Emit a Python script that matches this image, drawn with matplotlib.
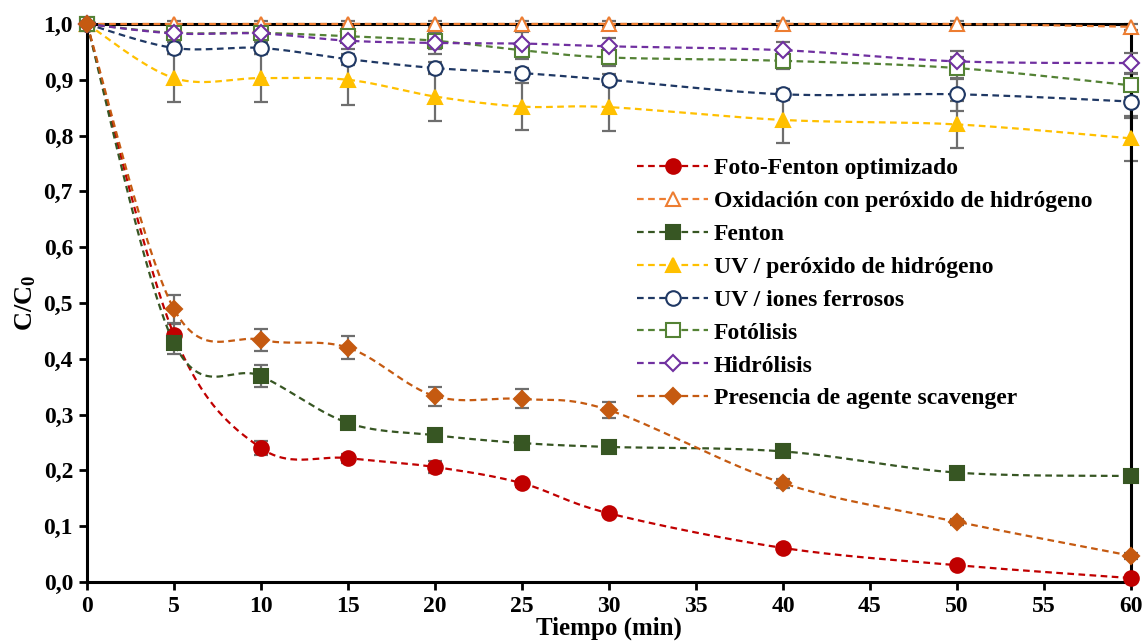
import numpy as np
import matplotlib
matplotlib.use('Agg')
import matplotlib.pyplot as plt
from matplotlib.ticker import FuncFormatter
from matplotlib.font_manager import FontProperties

plt.rcParams['font.family'] = 'Liberation Serif'
plt.rcParams['font.weight'] = 'bold'
plt.rcParams['mathtext.fontset'] = 'custom'
plt.rcParams['mathtext.rm'] = 'Liberation Serif:bold'
plt.rcParams['mathtext.it'] = 'Liberation Serif:bold'
plt.rcParams['mathtext.bf'] = 'Liberation Serif:bold'

# tiempo (min)
t = [0, 5, 10, 15, 20, 25, 30, 40, 50, 60]

foto_fenton = [1.0, 0.443, 0.240, 0.222, 0.206, 0.177, 0.123, 0.061, 0.030, 0.007]
foto_fenton_err = [0, 0.02, 0.012, 0.008, 0.01, 0.006, 0.005, 0.005, 0.004, 0.003]
oxidacion = [1.0, 1.0, 1.0, 1.0, 1.0, 1.0, 1.0, 1.0, 1.0, 0.995]
oxidacion_err = [0, 0.005, 0.005, 0.005, 0.005, 0.005, 0.005, 0.005, 0.005, 0.005]
fenton = [1.0, 0.428, 0.369, 0.285, 0.263, 0.249, 0.242, 0.234, 0.196, 0.190]
fenton_err = [0, 0.02, 0.019, 0.01, 0.008, 0.006, 0.006, 0.006, 0.006, 0.006]
uv_perox = [1.0, 0.903, 0.903, 0.900, 0.870, 0.852, 0.851, 0.828, 0.820, 0.795]
uv_perox_err = [0, 0.043, 0.043, 0.045, 0.043, 0.042, 0.042, 0.042, 0.042, 0.04]
uv_ferro = [1.0, 0.957, 0.957, 0.937, 0.921, 0.912, 0.900, 0.874, 0.874, 0.861]
uv_ferro_err = [0, 0.01, 0.01, 0.01, 0.01, 0.01, 0.01, 0.01, 0.03, 0.03]
fotolisis = [1.0, 0.984, 0.984, 0.978, 0.970, 0.953, 0.940, 0.934, 0.921, 0.890]
fotolisis_err = [0, 0.01, 0.01, 0.01, 0.015, 0.015, 0.015, 0.015, 0.02, 0.02]
hidrolisis = [1.0, 0.983, 0.983, 0.970, 0.966, 0.965, 0.960, 0.953, 0.933, 0.930]
hidrolisis_err = [0, 0.01, 0.01, 0.015, 0.02, 0.02, 0.015, 0.015, 0.018, 0.018]
scavenger = [1.0, 0.489, 0.434, 0.420, 0.333, 0.328, 0.308, 0.177, 0.108, 0.047]
scavenger_err = [0, 0.025, 0.02, 0.02, 0.017, 0.017, 0.015, 0.008, 0.005, 0.005]

series = [
    ("Foto-Fenton optimizado", foto_fenton, foto_fenton_err, "#C00000", "o", True),
    ("Oxidación con peróxido de hidrógeno", oxidacion, oxidacion_err, "#ED7D31", "^", False),
    ("Fenton", fenton, fenton_err, "#375623", "s", True),
    ("UV / peróxido de hidrógeno", uv_perox, uv_perox_err, "#FFC000", "^", True),
    ("UV / iones ferrosos", uv_ferro, uv_ferro_err, "#1F3864", "o", False),
    ("Fotólisis", fotolisis, fotolisis_err, "#548235", "s", False),
    ("Hidrólisis", hidrolisis, hidrolisis_err, "#7030A0", "D", False),
    ("Presencia de agente scavenger", scavenger, scavenger_err, "#C55A11", "D", True),
]


def smooth(x, y, n=30):
    # Excel-like smoothed line (Bezier through the points)
    x = np.asarray(x, float)
    y = np.asarray(y, float)
    px = np.concatenate([[x[0]], x, [x[-1]]])
    py = np.concatenate([[y[0]], y, [y[-1]]])
    xs, ys = [], []
    s = np.linspace(0, 1, n)
    for i in range(1, len(px) - 2):
        p0 = np.array([px[i], py[i]])
        p3 = np.array([px[i + 1], py[i + 1]])
        c1 = p0 + (p3 - np.array([px[i - 1], py[i - 1]])) / 6.0
        c2 = p3 - (np.array([px[i + 2], py[i + 2]]) - p0) / 6.0
        b = ((1 - s) ** 3)[:, None] * p0 + (3 * (1 - s) ** 2 * s)[:, None] * c1 \
            + (3 * (1 - s) * s ** 2)[:, None] * c2 + (s ** 3)[:, None] * p3
        xs.append(b[:, 0])
        ys.append(b[:, 1])
    return np.concatenate(xs), np.concatenate(ys)


fig = plt.figure(figsize=(11.46, 6.43), dpi=100)
ax = fig.add_axes([0.0759, 0.0949, 0.9110, 0.8678])

for k, (label, vals, err, col, mk, filled) in enumerate(series):
    ms = 10.5 if mk != 'D' else 8.5
    ax.errorbar(t, vals, yerr=err, fmt='none', ecolor='#6E6E6E', elinewidth=1.6,
                capsize=5, capthick=1.6, zorder=2 + k * 0.1, clip_on=False)
    sx, sy = smooth(t, vals)
    ax.plot(sx, sy, color=col, lw=1.6, dashes=(3, 2), zorder=3 + k * 0.1, clip_on=False)
    ax.plot(t, vals, linestyle='none', marker=mk, ms=ms,
            mfc=col if filled else 'white', mec=col, mew=1.5,
            zorder=3.05 + k * 0.1, clip_on=False)
    # legend proxy
    ax.plot([], [], color=col, lw=1.6, dashes=(3, 2), marker=mk,
            ms=ms, mfc=col if filled else 'white', mec=col,
            mew=1.5, label=label)

ax.set_xlim(0, 60)
ax.set_ylim(0, 1.0)
ax.set_xticks(np.arange(0, 61, 5))
ax.set_yticks(np.arange(0, 1.01, 0.1))
ax.yaxis.set_major_formatter(FuncFormatter(lambda v, p: ("%.1f" % v).replace('.', ',')))
ax.tick_params(direction='out', length=6, width=2, labelsize=17, pad=4)
for lab in ax.get_xticklabels() + ax.get_yticklabels():
    lab.set_fontweight('bold')
for sp in ax.spines.values():
    sp.set_linewidth(2.2)
    sp.set_color('black')

ax.set_xlabel('Tiempo (min)', fontsize=18, fontweight='bold', labelpad=0)
ax.set_ylabel(r'C/C$_0$', fontsize=19, fontweight='bold', labelpad=4)

legfont = FontProperties(family='Liberation Serif', weight='bold', size=17)
leg = ax.legend(loc='upper left', bbox_to_anchor=(0.518, 0.777), frameon=False,
                prop=legfont, handlelength=3.0, handletextpad=0.25,
                labelspacing=0.48, borderaxespad=0)

fig.savefig('out.png', dpi=100)
